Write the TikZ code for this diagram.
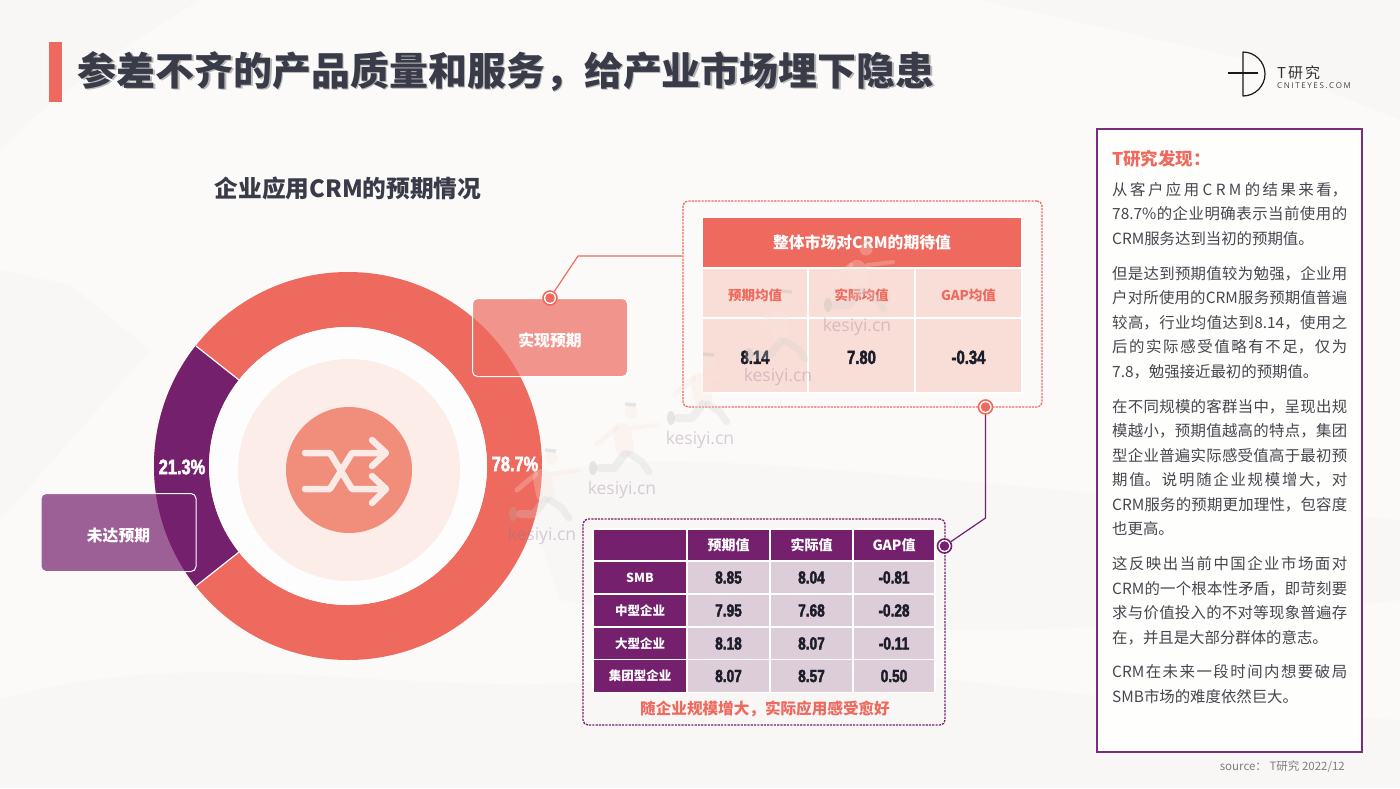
\documentclass[tikz,border=0pt]{standalone}
\usepackage{fontspec}
\setmainfont{Noto Sans CJK SC}
\newfontfamily\imp[FakeStretch=0.78,FakeBold=2.4]{Liberation Sans}
\newfontfamily\wm{Open Sans}
\newcommand{\fsz}[1]{\fontsize{#1}{#1}\selectfont}
\newcommand{\gp}{\hspace{0pt plus 4pt}}
\newcommand{\cjc}{^^^^ff0c}
\newcommand{\cjd}{^^^^ff1a}
\definecolor{cred}{HTML}{EE6A5E}
\definecolor{cpur}{HTML}{74206D}
\definecolor{cdark}{HTML}{3A3B48}
\definecolor{cnum}{HTML}{1C1D2A}
\definecolor{cpink}{HTML}{F9DED7}
\definecolor{clil}{HTML}{DCCDD8}
\definecolor{cbg}{HTML}{FBFAF9}
\definecolor{cpatch}{HTML}{F8F7F6}
\definecolor{ctxt}{HTML}{46464E}
\definecolor{cpale}{HTML}{FCEDE8}
\definecolor{cicon}{HTML}{F08D7B}
\definecolor{cline}{HTML}{FBEAE5}
\definecolor{cpanel}{HTML}{7A2D7A}
\definecolor{cwm}{HTML}{8A6F93}
\definecolor{cpeach}{HTML}{F8E2D8}
\tikzset{
  cell/.style={draw=white,line width=1.2pt,inner sep=0pt,minimum width=#1,text centered},
  cell/.default=100pt,
  rednum/.style={font=\imp\bfseries\fsz{19},text=cnum},
  purnum/.style={font=\imp\bfseries\fsz{17.5},text=cnum},
  redhead/.style={font=\bfseries\fsz{13.5},text=cred},
  purhead/.style={font=\bfseries\fsz{14},text=white},
  purrow/.style={font=\bfseries\fsz{12.5},text=white},
  pct/.style={font=\imp\bfseries\fsz{21},text=white,inner sep=0pt},
  callout/.style={rounded corners=5pt,draw=white,line width=1pt,fill opacity=0.7,text opacity=1,
     minimum width=155pt,minimum height=78pt,text=white,font=\bfseries\fsz{15.8}},
  dashbox/.style={rounded corners=5pt,line width=1.3pt,dash pattern=on 2.2pt off 1.1pt,inner sep=0pt},
  outerdot/.style={circle,draw=#1,fill=white,line width=1.6pt,minimum size=14pt,inner sep=0pt},
  plain/.style={inner sep=0pt},
  iconline/.style={draw=#1,line width=6.5pt,line cap=round,line join=round},
}
\newcommand{\runner}[3]{%
 \begin{scope}[shift={(#1,#2)}]
  \begin{scope}[opacity=0.28]
   \draw[line width=18pt,color=cpeach,line cap=round] (0,-58) -- (3,-42);
   \draw[line width=5pt,color=cpeach,line cap=round] (-6,-62) -- (-25,-46);
   \draw[line width=4pt,color=cpeach,line cap=round] (10,-62) -- (36,-65);
   \fill[cpeach] (9,-78) circle (6.5);
   \draw[line width=3.5pt,color=gray!60] (3,-86) -- (14,-85);
   \draw[line width=8pt,color=gray!35,line cap=round,line join=round] (3,-36) -- (-8,-22) -- (-22,-22);
   \draw[line width=7pt,color=gray!35,line cap=round,line join=round] (8,-36) -- (20,-28) -- (27,-18);
   \fill[gray!60] (-29,-22) ellipse (4 and 7);
  \end{scope}
  \node[plain,text=cwm,text opacity=0.32,font=\wm\fsz{17.5}] (#3) at (0,0) {kesiyi.cn};
 \end{scope}}
\begin{document}
\begin{tikzpicture}[x=1pt,y=-1pt]
\useasboundingbox (0,0) rectangle (1400,788);
% background
\fill[cbg] (0,0) rectangle (1400,788);
\fill[cpatch] (0,0) -- (200,0) -- (120,50) -- (30,120) -- (0,150) -- cycle;
\fill[cpatch] (980,0) -- (1400,0) -- (1400,120) -- (1250,60) -- cycle;
\fill[cpatch] (0,270) -- (70,285) -- (150,350) -- (0,520) -- cycle;
\fill[cpatch] (0,700) .. controls (200,640) and (400,700) .. (620,680) .. controls (800,640) and (1000,700) .. (1400,720) -- (1400,788) -- (0,788) -- cycle;
\fill[cpatch] (520,480) .. controls (650,440) and (800,470) .. (1400,520) -- (1400,600) .. controls (1100,640) and (800,640) .. (560,600) -- cycle;
% title
\fill[cred] (49,42) rectangle (62,102);
\node[plain,anchor=west,text=black!28,font=\bfseries\fsz{38.95}] (titleshadow) at (79,73) {参差不齐的产品质量和服务\cjc{}给产业市场埋下隐患};
\node[plain,anchor=west,text=cdark,font=\bfseries\fsz{38.95}] (title) at (77.5,71.5) {参差不齐的产品质量和服务\cjc{}给产业市场埋下隐患};
\node[plain,text=cdark,font=\bfseries\fsz{23.7}] (subtitle) at (348,188) {企业应用CRM的预期情况};
% logo
\draw[black!90,line width=1.2pt,line join=round] (1243,52) .. controls (1255,52) and (1265,62) .. (1265,74) .. controls (1265,86) and (1255,96) .. (1243,96) -- cycle;
\draw[black!90,line width=1.2pt] (1228,73) -- (1258,73);
\node[plain,anchor=west,text=black!80,font=\fsz{15}] (logoa) at (1277,73) {T\hspace{2pt}研\hspace{2pt}究};
\node[plain,anchor=west,text=black!75,font=\wm\fsz{8}] (logob) at (1277,86) {C\hspace{1.6pt}N\hspace{1.6pt}I\hspace{1.6pt}T\hspace{1.6pt}E\hspace{1.6pt}Y\hspace{1.6pt}E\hspace{1.6pt}S\hspace{1.6pt}.\hspace{1.6pt}C\hspace{1.6pt}O\hspace{1.6pt}M};
% donut
\coordinate (c) at (348,466);
\fill[cred,even odd rule] (c) circle (194) (c) circle (139);
\begin{scope}
 \clip (348,466) -- (-52,150) -- (-52,782) -- cycle;
 \fill[cpur,even odd rule] (c) circle (194) (c) circle (139);
\end{scope}
\draw[white,line width=1.2pt] (239,380) -- (196,346);
\draw[white,line width=1.2pt] (239,552) -- (196,586);
\fill[white!60!cbg] (c) circle (139);
\fill[cpale] (349,470) circle (111);
\fill[cicon] (349,470) circle (63);
\draw[iconline=cline] (305,453) -- (330,453) -- (352,489) -- (385,489);
\draw[iconline=cline] (305,489) -- (330,489) -- (352,453) -- (385,453);
\draw[iconline=cline] (372,440) -- (386,453) -- (372,466);
\draw[iconline=cline] (372,476) -- (386,489) -- (372,503);
\node[pct] (p21) at (182,467) {21.3\%};
\node[pct] (p78) at (515,464) {78.7\%};
% callouts
\node[callout,fill=cred] (real) at (550,337.5) {\rule{0pt}{20pt}实现预期};
\node[callout,fill=cpur] (miss) at (118.5,532.5) {\rule{0pt}{20pt}未达预期};
% red panel
\node[dashbox,draw=cred,minimum width=359pt,minimum height=206pt] (redbox) at (862.5,304) {};
\node[cell=320pt,fill=cred,minimum height=51pt,text=white,font=\bfseries\fsz{15.8}] (rh) at (862,242.5) {整体市场对CRM的期待值};
\node[cell=106pt,fill=cpink,minimum height=50pt,redhead] (r1a) at (755,293) {\rule{0pt}{16pt}预期均值};
\node[cell=107pt,fill=cpink,minimum height=50pt,redhead] (r1b) at (861.5,293) {\rule{0pt}{16pt}实际均值};
\node[cell=107pt,fill=cpink,minimum height=50pt,redhead] (r1c) at (968.5,293) {\rule{0pt}{16pt}GAP均值};
\node[cell=106pt,fill=cpink,minimum height=75pt,rednum] (r2a) at (755,355.5) {\rule{0pt}{17pt}8.14};
\node[cell=107pt,fill=cpink,minimum height=75pt,rednum] (r2b) at (861.5,355.5) {\rule{0pt}{17pt}7.80};
\node[cell=107pt,fill=cpink,minimum height=75pt,rednum] (r2c) at (968.5,355.5) {\rule{0pt}{17pt}-0.34};
% purple panel
\node[dashbox,draw=cpur,minimum width=362pt,minimum height=206pt] (purbox) at (764,622) {};
\foreach \nm/\yy/\lab/\va/\vb/\vc in {a/577.5/SMB/8.85/8.04/-0.81,b/610.5/中型企业/7.95/7.68/-0.28,c/643.5/大型企业/8.18/8.07/-0.11,d/676/集团型企业/8.07/8.57/0.50}{
 \node[cell=94pt,fill=cpur,minimum height=33pt,purrow] (row\nm) at (640,\yy) {\lab};
 \node[cell=83pt,fill=clil,minimum height=33pt,purnum] (row\nm x) at (728.5,\yy) {\va};
 \node[cell=83pt,fill=clil,minimum height=33pt,purnum] (row\nm y) at (811.5,\yy) {\vb};
 \node[cell=82pt,fill=clil,minimum height=33pt,purnum] (row\nm z) at (894,\yy) {\vc};
}
\node[cell=94pt,fill=cpur,minimum height=32pt] (hd0) at (640,545) {};
\node[cell=83pt,fill=cpur,minimum height=32pt,purhead] (hd1) at (728.5,545) {预期值};
\node[cell=83pt,fill=cpur,minimum height=32pt,purhead] (hd2) at (811.5,545) {实际值};
\node[cell=82pt,fill=cpur,minimum height=32pt,purhead] (hd3) at (894,545) {GAP值};
\node[plain,text=cred,font=\bfseries\fsz{15.6}] (note) at (765,708.5) {随企业规模增大\cjc{}实际应用感受愈好};
% connectors
\node[outerdot=cred] (d1) at (550,298) {};
\fill[cred] (d1.center) circle (4.8);
\coordinate (k1) at (578,256);
\draw[cred,line width=1.2pt] (d1) -- (k1) -- (redbox.west |- k1);
\node[outerdot=cred] (d2) at (985.5,407) {};
\fill[cred] (d2.center) circle (4.8);
\node[outerdot=cpur] (d3) at (944.5,546) {};
\fill[cpur] (d3.center) circle (4.8);
\coordinate (k2) at (985.5,518);
\draw[cpur,line width=1.2pt] (d2) -- (k2) -- (d3);
% right panel
\node[draw=cpanel,line width=1.6pt,fill=white!70!cbg,minimum width=265pt,minimum height=623pt,inner sep=0pt] (panel) at (1229.5,440.5) {};
\node[plain,anchor=west,text=cred,font=\bfseries\fsz{17.5}] (find) at (1112,159) {T研究发现\cjd{}};
\node[plain,anchor=north west,text=ctxt] (body) at (1112,182) {\parbox[t]{235pt}{%
 \fontsize{15.4}{24.55}\selectfont
 \XeTeXlinebreaklocale "zh"\XeTeXlinebreakskip=0pt plus 3pt minus 0.5pt\relax
 \parskip=10.2pt\parindent=0pt\emergencystretch=20pt
 从客户应用\gp C\gp R\gp M\gp 的结果来看\cjc{}\linebreak
 78.7\%的企业明确表示当前使用的\linebreak
 CRM服务达到当初的预期值。\par
 但是达到预期值较为勉强\cjc{}企业用\linebreak
 户对所使用的CRM服务预期值普遍\linebreak
 较高\cjc{}行业均值达到8.14\cjc{}使用之\linebreak
 后的实际感受值略有不足\cjc{}仅为\linebreak
 7.8\cjc{}勉强接近最初的预期值。\par
 在不同规模的客群当中\cjc{}呈现出规\linebreak
 模越小\cjc{}预期值越高的特点\cjc{}集团\linebreak
 型企业普遍实际感受值高于最初预\linebreak
 期值。说明随企业规模增大\cjc{}对\linebreak
 CRM服务的预期更加理性\cjc{}包容度\linebreak
 也更高。\par
 这反映出当前中国企业市场面对\linebreak
 CRM的一个根本性矛盾\cjc{}即苛刻要\linebreak
 求与价值投入的不对等现象普遍存\linebreak
 在\cjc{}并且是大部分群体的意志。\par
 CRM在未来一段时间内想要破局\linebreak
 SMB市场的难度依然巨大。\par}};
\node[plain,anchor=east,text=black!50,font=\fsz{11.5}] (src) at (1345,767) {source\cjd{} T研究 2022/12};
% watermarks
\runner{622}{490}{wa}
\runner{700}{440}{wb}
\runner{542}{536}{wc}
\runner{778}{377}{wd}
\runner{857}{327}{we}
\end{tikzpicture}
\end{document}
